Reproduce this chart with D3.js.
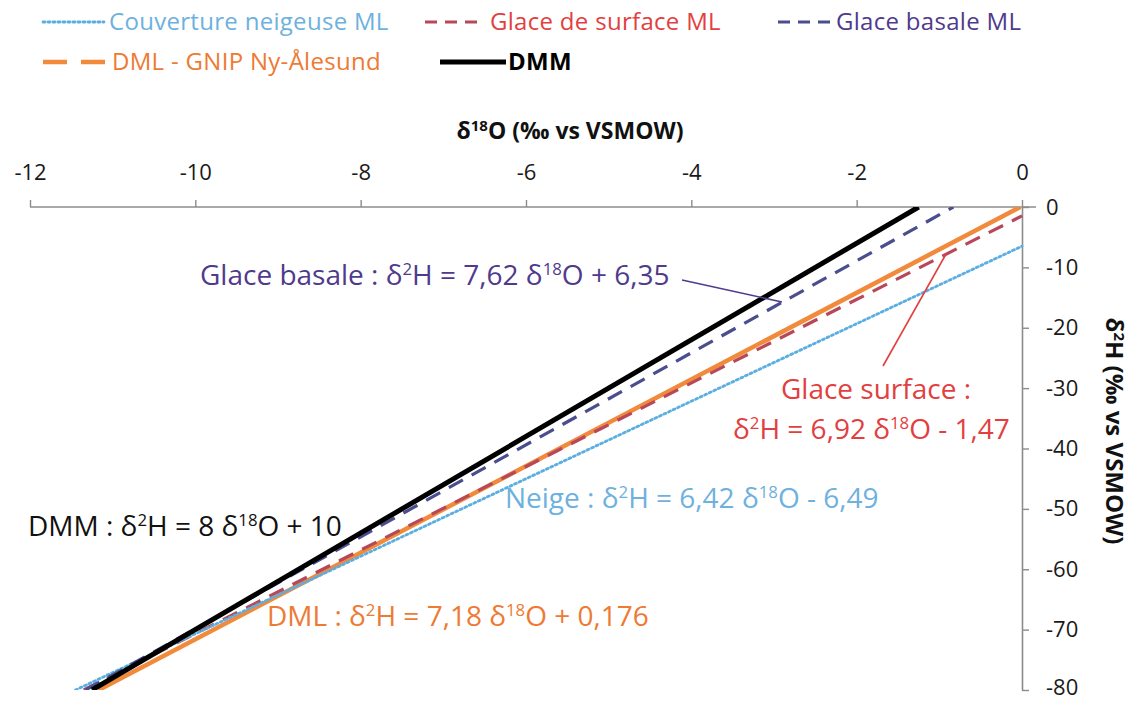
<!DOCTYPE html>
<html><head><meta charset="utf-8">
<script src="https://cdn.jsdelivr.net/npm/d3@7"></script>
<style>
body{margin:0;background:#fff;}
svg{font-family:"Open Sans","Noto Sans",sans-serif;}
</style></head>
<body><svg id="c" width="1133" height="702"></svg>
<script>
// ---- data ----
const xTicks = [-12, -10, -8, -6, -4, -2, 0];
const yTicks = [0, -10, -20, -30, -40, -50, -60, -70, -80];
const seriesNames = ["Couverture neigeuse ML", "Glace de surface ML", "Glace basale ML", "DML - GNIP Ny-Ålesund", "DMM"];
// endpoints of each regression line (δ18O, δ2H)
const neigeX = [-11.45, 0],    neigeY = [-80, -6.49];
const surfaceX = [-11.35, 0],  surfaceY = [-80, -1.47];
const basaleX = [-11.33, -0.83], basaleY = [-80, 0];
const dmlX = [-11.17, -0.02],  dmlY = [-80, 0];
const dmmX = [-11.25, -1.25],  dmmY = [-80, 0];

const svg = d3.select("#c");
const x = d3.scaleLinear().domain([-12, 0]).range([30, 1022]);
const y = d3.scaleLinear().domain([0, -80]).range([207, 690]);
const axisCol = "#8c8c8c";

const C = {
  neige: "#5aaee0", neigeT: "#6eb1de",
  surf: "#b7485a", surfT: "#e2403f",
  bas: "#4b4e8e", basT: "#4f3a8c",
  dml: "#f28a3b", dmlT: "#ee7a33",
  dmm: "#000"
};

// axes
const gx = svg.append("g").attr("transform", "translate(0,207)")
  .call(d3.axisTop(x).tickValues(xTicks).tickSize(7).tickSizeOuter(0).tickPadding(20).tickFormat(d3.format("d")));
const gy = svg.append("g").attr("transform", "translate(1022,0)")
  .call(d3.axisRight(y).tickValues(yTicks).tickSize(7).tickSizeOuter(0).tickPadding(17).tickFormat(d3.format("d")));
[gx, gy].forEach(g => {
  g.selectAll("path.domain").attr("stroke", axisCol).attr("stroke-width", 1.6);
  g.selectAll(".tick line").attr("stroke", axisCol).attr("stroke-width", 1.4);
  g.selectAll(".tick text").attr("fill", "#1a1a1a").style("font-size", "22px").style("font-family", "'Open Sans'");
});
gx.select("path.domain").attr("d", `M${x(-12)},0H${x(0)+14}`);
gx.selectAll(".tick text").text(d => d === 0 ? "0" : "-" + Math.abs(d));
gy.selectAll(".tick text").text(d => d === 0 ? "0" : "-" + Math.abs(d))
  .attr("y", d => d === -80 ? -3 : 0);

// axis titles
const xt = svg.append("text").attr("x", 570).attr("y", 139).attr("text-anchor", "middle")
  .attr("font-weight", "bold").style("font-size", "23px").attr("fill", "#111");
xt.append("tspan").text("δ");
xt.append("tspan").text("18").attr("dy", -8).style("font-size", "15px");
xt.append("tspan").text("O (‰ vs VSMOW)").attr("dy", 8);
const yt = svg.append("text").attr("transform", "translate(1106,431) rotate(90)").attr("text-anchor", "middle")
  .attr("font-weight", "bold").style("font-size", "24px").attr("fill", "#111");
yt.append("tspan").text("δ");
yt.append("tspan").text("2").attr("dy", -8).style("font-size", "15px");
yt.append("tspan").text("H (‰ vs VSMOW)").attr("dy", 8);

// lines
svg.append("clipPath").attr("id", "clip").append("rect")
  .attr("x", x(-12)).attr("y", y(0)).attr("width", x(0) - x(-12) + 2).attr("height", y(-80) - y(0));
const line = d3.line().x(d => x(d[0])).y(d => y(d[1]));
const plot = svg.append("g").attr("clip-path", "url(#clip)");
function draw(xs, ys, col, w, dash) {
  plot.append("path").datum(d3.zip(xs, ys)).attr("d", line).attr("fill", "none")
    .attr("stroke", col).attr("stroke-width", w).attr("stroke-dasharray", dash || null)
    .attr("stroke-linecap", dash === "2 3" ? "round" : "butt");
}
draw(dmlX, dmlY, C.dml, 4.5, null);
draw(surfaceX, surfaceY, C.surf, 3.2, "16 10");
draw(neigeX, neigeY, C.neige, 2.8, "2 3");
draw(basaleX, basaleY, C.bas, 3.2, "16 10");
draw(dmmX, dmmY, C.dmm, 5, null);

// legend
const leg = [
  {name: seriesNames[0], col: C.neige, tc: C.neigeT, dash: "2 3", w: 2.8, x1: 43, x2: 104, tx: 109, y: 22},
  {name: seriesNames[1], col: C.surf, tc: C.surfT, dash: "12 8", w: 3.2, x1: 425, x2: 485, tx: 490, y: 22},
  {name: seriesNames[2], col: C.bas, tc: C.basT, dash: "12 8", w: 3.2, x1: 778, x2: 830, tx: 836, y: 22},
  {name: seriesNames[3], col: C.dml, tc: C.dmlT, dash: "24 14", w: 4.5, x1: 43, x2: 106, tx: 112, y: 62},
  {name: seriesNames[4], col: C.dmm, tc: "#000", dash: null, w: 5, x1: 440, x2: 506, tx: 508, y: 62}
];
leg.forEach(l => {
  svg.append("line").attr("x1", l.x1).attr("x2", l.x2).attr("y1", l.y).attr("y2", l.y)
    .attr("stroke", l.col).attr("stroke-width", l.w).attr("stroke-dasharray", l.dash)
    .attr("stroke-linecap", l.dash === "2 3" ? "round" : "butt");
  svg.append("text").attr("x", l.tx).attr("y", l.y + 8).text(l.name).attr("fill", l.tc)
    .style("font-size", "24px").style("letter-spacing", "0.3px")
    .attr("font-weight", l.name === "DMM" ? "bold" : "normal");
});

// annotations
function eq(xp, yp, col, pre, a, b, fs) {
  const t = svg.append("text").attr("x", xp).attr("y", yp).attr("fill", col).style("font-size", fs + "px");
  t.append("tspan").text(pre + "δ");
  t.append("tspan").text("2").attr("dy", -fs * 0.36).style("font-size", (fs * 0.6) + "px");
  t.append("tspan").text("H = " + a + " δ").attr("dy", fs * 0.36);
  t.append("tspan").text("18").attr("dy", -fs * 0.36).style("font-size", (fs * 0.6) + "px");
  t.append("tspan").text("O " + b).attr("dy", fs * 0.36);
  return t;
}
const FS = 28;
eq(200, 285, C.basT, "Glace basale : ", "7,62", "+ 6,35", FS);
svg.append("text").attr("x", 876).attr("y", 399).attr("text-anchor", "middle").attr("fill", C.surfT)
  .style("font-size", FS + "px").text("Glace surface :");
eq(733, 439, C.surfT, "", "6,92", "- 1,47", FS);
eq(505, 508, C.neigeT, "Neige : ", "6,42", "- 6,49", FS);
eq(28, 536, "#111", "DMM : ", "8", "+ 10", FS);
eq(267, 626, C.dmlT, "DML : ", "7,18", "+ 0,176", FS);

// leader lines
svg.append("line").attr("x1", 682).attr("y1", 280).attr("x2", 782).attr("y2", 302)
  .attr("stroke", C.basT).attr("stroke-width", 1.6);
svg.append("line").attr("x1", 883).attr("y1", 366).attr("x2", 946).attr("y2", 254)
  .attr("stroke", C.surfT).attr("stroke-width", 1.6);
</script></body></html>
